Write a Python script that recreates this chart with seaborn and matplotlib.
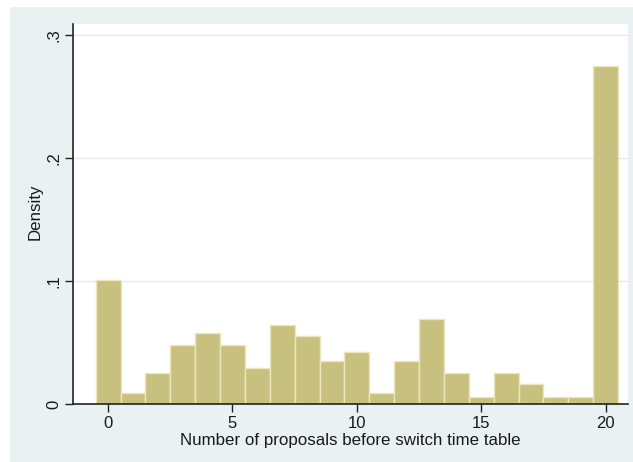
import numpy as np
import pandas as pd
import matplotlib
matplotlib.use("Agg")
import matplotlib.pyplot as plt
import seaborn as sns
from matplotlib.patches import Rectangle

# Number of proposals made before switching the time table, with histogram density
proposals = list(range(21))
density = [0.101, 0.009, 0.025, 0.048, 0.058, 0.048, 0.029, 0.064, 0.055, 0.035,
           0.042, 0.009, 0.035, 0.069, 0.025, 0.006, 0.025, 0.016, 0.006, 0.006,
           0.275]
x_ticks = [0, 5, 10, 15, 20]
y_ticks = [0, 0.1, 0.2, 0.3]
y_tick_labels = ["0", ".1", ".2", ".3"]

df = pd.DataFrame({"proposals": proposals, "density": density})

sns.set_theme(style="white")
plt.rcParams["font.family"] = ["Liberation Sans", "DejaVu Sans"]

W, H = 633, 462
fig = plt.figure(figsize=(W / 100, H / 100), dpi=100, facecolor="white")

# outer graph region
fig.patches.append(Rectangle((10 / W, 0), (W - 10) / W, (H - 7) / H,
                             transform=fig.transFigure, facecolor="#eaf1f3",
                             edgecolor="none", zorder=-10))

ax_left, ax_right, ax_top, ax_bottom = 73, 628, 24, 404
ax = fig.add_axes([ax_left / W, (H - ax_bottom) / H,
                   (ax_right - ax_left) / W, (ax_bottom - ax_top) / H])
ax.set_zorder(1)
ax.set_facecolor("white")

sns.histplot(data=df, x="proposals", weights="density", discrete=True, shrink=1,
             stat="count", color="#c8c07e", alpha=1, edgecolor="#ece6bf",
             linewidth=1.0, ax=ax, zorder=2)

ax.set_xlim(-1.41, 20.9)
ax.set_ylim(0, 0.309)

for yv in y_ticks[1:]:
    ax.axhline(yv, color="#e3ebee", linewidth=1.0, zorder=1)

ax.set_xticks(x_ticks)
ax.set_xticklabels([str(v) for v in x_ticks])
ax.set_yticks(y_ticks)
ax.set_yticklabels(y_tick_labels, rotation=90, va="center")

ax.tick_params(axis="both", which="major", length=5.5, width=1.0, color="#222222",
               labelsize=12, labelcolor="#1a1a1a", bottom=True, left=True, pad=3)

for side in ["top", "right"]:
    ax.spines[side].set_visible(False)
for side in ["left", "bottom"]:
    ax.spines[side].set_color("#222222")
    ax.spines[side].set_linewidth(1.2)

ax_h = ax_bottom - ax_top
ax_w = ax_right - ax_left
ax.set_xlabel("Number of proposals before switch time table", fontsize=12.2,
              color="#1a1a1a", va="baseline")
ax.xaxis.set_label_coords(0.5, -(445 - ax_bottom) / ax_h)
ax.set_ylabel("Density", fontsize=12.2, color="#1a1a1a", va="center")
ax.yaxis.set_label_coords(-(ax_left - 35.5) / ax_w, (ax_bottom - 212) / ax_h)

fig.savefig("out.png", dpi=100, facecolor="white")
